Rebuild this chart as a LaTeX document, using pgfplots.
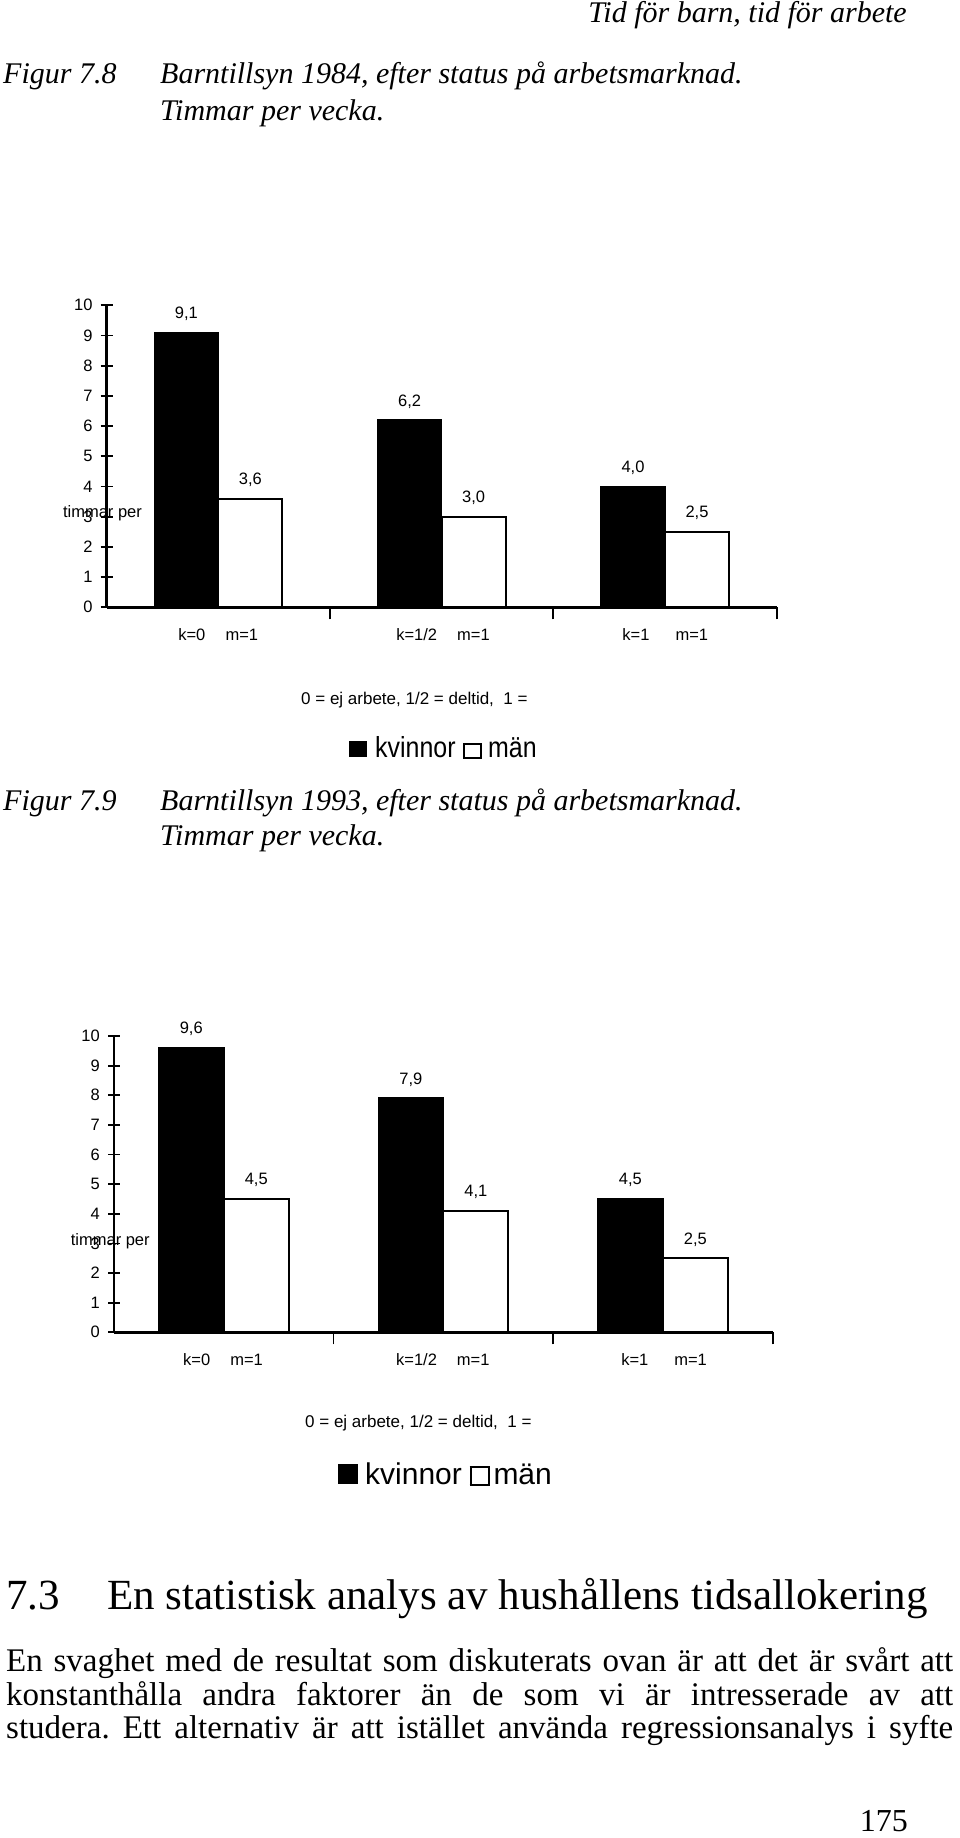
\documentclass[border=0pt]{standalone}
\usepackage{fontspec}
\setmainfont{Liberation Serif}
\newfontfamily\arial{Liberation Sans}
\newfontfamily\arialc[FakeStretch=0.86]{Liberation Sans}
\usepackage{graphicx}
\usepackage{pgfplots}
\usepackage{pgfplotstable}
\pgfplotsset{compat=1.18}
\frenchspacing

\pgfplotstableread{
x k m
0.5 9.1 3.6
1.5 6.2 3.0
2.5 4.0 2.5
}\dataA
\pgfplotstableread{
x k m
0.5 9.6 4.5
1.5 7.9 4.1
2.5 4.5 2.5
}\dataB

\pgfplotsset{
 barnstyle/.style={
  scale only axis, xmin=0, xmax=3, ymin=0, ymax=10,
  axis x line=bottom, axis y line=left,
  axis line style={-, line width=2.6pt, black},
  ytick={0,1,...,10}, xtick={1,2,3}, xticklabels={},
  tick align=center, major tick length=12pt,
  tick style={line width=1.8pt, black},
  /pgf/number format/assume math mode=true,
  ticklabel style={font=\arial\fontsize{16.5}{18}\selectfont},
  yticklabel style={inner sep=0pt, xshift=-8pt},
  axis on top, clip=false,
  ybar=0pt,
  nodes near coords={\pgfmathprintnumber[fixed,fixed zerofill,precision=1,use comma,assume math mode=true]{\pgfplotspointmeta}},
  every node near coord/.append style={font=\arial\fontsize{16.5}{18}\selectfont, anchor=base, yshift=14pt, inner sep=0pt, black},
 },
}
\tikzset{catlab/.style={font=\arial\fontsize{16.5}{18}\selectfont, anchor=base, inner sep=0pt}}

\begin{document}
\begin{tikzpicture}
\useasboundingbox (0,0) rectangle (960pt,-1838pt);

% running header and caption 1
\node[anchor=base east, inner sep=0] at (907pt,-23pt) {\itshape\fontsize{30}{32}\selectfont Tid för barn, tid för arbete};
\node[anchor=base west, inner sep=0] at (3pt,-84pt) {\itshape\fontsize{30}{32}\selectfont Figur 7.8};
\node[anchor=base west, inner sep=0] at (160pt,-84pt) {\itshape\fontsize{30}{32}\selectfont Barntillsyn 1984, efter status på arbetsmarknad.};
\node[anchor=base west, inner sep=0] at (160pt,-121pt) {\itshape\fontsize{30}{32}\selectfont Timmar per vecka.};

% chart 1
\begin{axis}[barnstyle, at={(106.7pt,-607.3pt)}, anchor=south west, width=670pt, height=302pt, bar width=64pt]
\addplot[fill=black, draw=black, line width=1.5pt] table[x=x,y=k]{\dataA};
\addplot[fill=white, draw=black, line width=2pt] table[x=x,y=m]{\dataA};
\node[catlab] at (axis cs:0.381,0) [yshift=-33pt] {k=0};
\node[catlab] at (axis cs:0.605,0) [yshift=-33pt] {m=1};
\node[catlab] at (axis cs:1.388,0) [yshift=-33pt] {k=1/2};
\node[catlab] at (axis cs:1.642,0) [yshift=-33pt] {m=1};
\node[catlab] at (axis cs:2.370,0) [yshift=-33pt] {k=1};
\node[catlab] at (axis cs:2.620,0) [yshift=-33pt] {m=1};
\node[font=\arial\fontsize{16.5}{18}\selectfont, inner sep=0pt] at (axis cs:-0.019,3.12) {timmar per};
\end{axis}

% legend 1
\node[anchor=base west, inner sep=0] at (301pt,-704pt) {\arial\fontsize{17}{20}\selectfont 0 = ej arbete, 1/2 = deltid,\ \ 1 =};
\node[anchor=base west, inner sep=0] at (349pt,-757pt) {\rule{17.7pt}{15.7pt}};
\node[anchor=base west, inner sep=0] at (375pt,-757pt) {\arialc\fontsize{29}{32}\selectfont kvinnor};
\node[anchor=base west, inner sep=0] at (463pt,-757pt) {\setlength\fboxrule{2pt}\setlength\fboxsep{0pt}\fbox{\rule{0pt}{11.7pt}\rule{14.4pt}{0pt}}};
\node[anchor=base west, inner sep=0] at (488pt,-757pt) {\arialc\fontsize{29}{32}\selectfont män};

% caption 2
\node[anchor=base west, inner sep=0] at (3pt,-810pt) {\itshape\fontsize{30}{32}\selectfont Figur 7.9};
\node[anchor=base west, inner sep=0] at (160pt,-810pt) {\itshape\fontsize{30}{32}\selectfont Barntillsyn 1993, efter status på arbetsmarknad.};
\node[anchor=base west, inner sep=0] at (160pt,-845pt) {\itshape\fontsize{30}{32}\selectfont Timmar per vecka.};

% chart 2
\begin{axis}[barnstyle, at={(114pt,-1332.3pt)}, anchor=south west, width=658.7pt, height=296.3pt, bar width=65pt]
\addplot[fill=black, draw=black, line width=1.5pt] table[x=x,y=k]{\dataB};
\addplot[fill=white, draw=black, line width=2pt] table[x=x,y=m]{\dataB};
\node[catlab] at (axis cs:0.377,0) [yshift=-33pt] {k=0};
\node[catlab] at (axis cs:0.604,0) [yshift=-33pt] {m=1};
\node[catlab] at (axis cs:1.378,0) [yshift=-33pt] {k=1/2};
\node[catlab] at (axis cs:1.636,0) [yshift=-33pt] {m=1};
\node[catlab] at (axis cs:2.372,0) [yshift=-33pt] {k=1};
\node[catlab] at (axis cs:2.626,0) [yshift=-33pt] {m=1};
\node[font=\arial\fontsize{16.5}{18}\selectfont, inner sep=0pt] at (axis cs:-0.017,3.06) {timmar per};
\end{axis}

% legend 2
\node[anchor=base west, inner sep=0] at (305pt,-1427.7pt) {\arial\fontsize{17}{20}\selectfont 0 = ej arbete, 1/2 = deltid,\ \ 1 =};
\node[anchor=base west, inner sep=0] at (337.3pt,-1484pt) {\rule{20pt}{20pt}};
\node[anchor=base west, inner sep=0] at (365pt,-1484.3pt) {\arial\fontsize{30}{33}\selectfont kvinnor};
\node[anchor=base west, inner sep=0] at (469.3pt,-1484pt) {\setlength\fboxrule{2pt}\setlength\fboxsep{0pt}\fbox{\rule{0pt}{16pt}\rule{16pt}{0pt}}};
\node[anchor=base west, inner sep=0] at (493.3pt,-1484.3pt) {\arial\fontsize{30}{33}\selectfont män};

% section heading and body
\node[anchor=base west, inner sep=0] at (6pt,-1609pt) {\fontsize{43}{46}\selectfont 7.3};
\node[anchor=base west, inner sep=0] at (107pt,-1609pt) {\fontsize{43}{46}\selectfont En statistisk analys av hushållens tidsallokering};
\node[anchor=base west, inner sep=0] at (6pt,-1671pt) {\fontsize{33}{34.5}\selectfont\makebox[947pt][s]{En svaghet med de resultat som diskuterats ovan är att det är svårt att}};
\node[anchor=base west, inner sep=0] at (6pt,-1705pt) {\fontsize{33}{34.5}\selectfont\makebox[947pt][s]{konstanthålla andra faktorer än de som vi är intresserade av att}};
\node[anchor=base west, inner sep=0] at (6pt,-1738pt) {\fontsize{33}{34.5}\selectfont\makebox[947pt][s]{studera. Ett alternativ är att istället använda regressionsanalys i syfte}};
\node[anchor=base east, inner sep=0] at (908pt,-1831pt) {\fontsize{32}{34}\selectfont 175};
\end{tikzpicture}
\end{document}
